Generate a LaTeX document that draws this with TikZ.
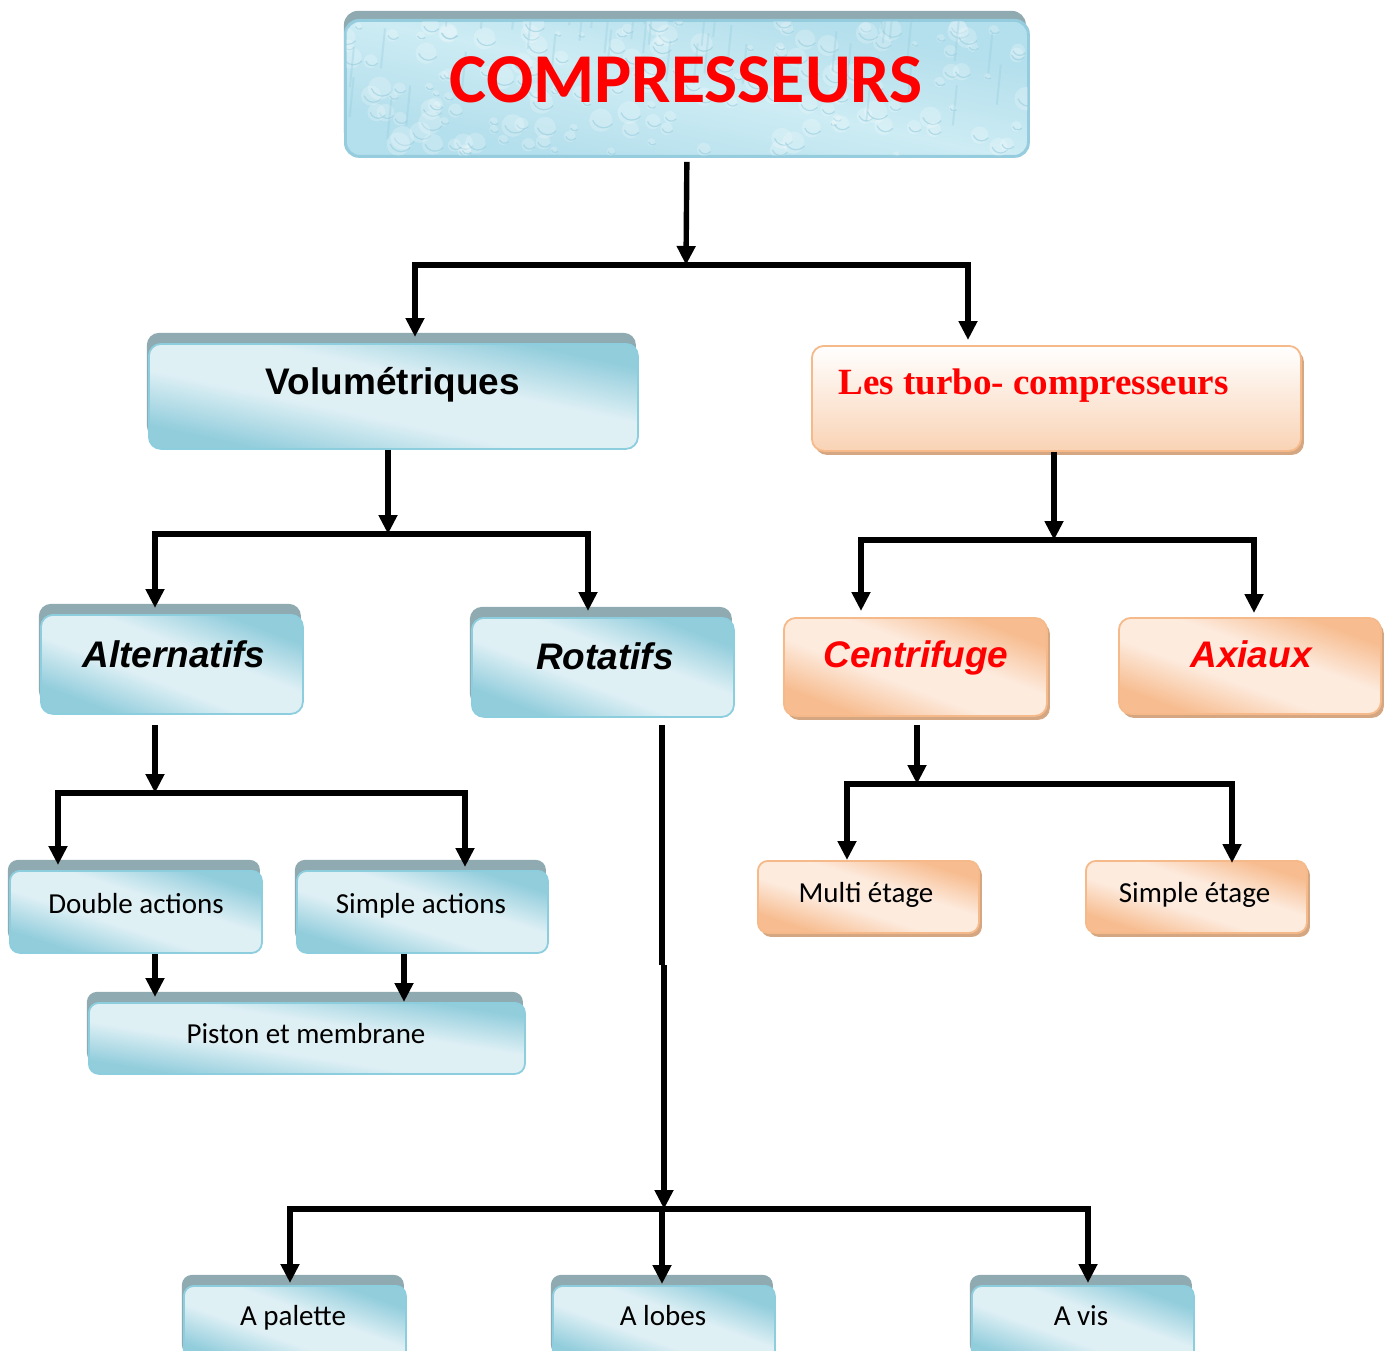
\documentclass[tikz,border=0pt]{standalone}
\usepackage{fontspec}
\setmainfont{Carlito}
\newfontfamily\arialf{Liberation Sans}
\newfontfamily\timesf{Liberation Serif}
\usetikzlibrary{arrows.meta,shadows}
\definecolor{bdark}{RGB}{146,205,220}
\definecolor{blight}{RGB}{223,240,245}
\definecolor{bborder}{RGB}{140,206,222}
\definecolor{bshadow}{RGB}{143,170,176}
\definecolor{odark}{RGB}{247,189,145}
\definecolor{olight}{RGB}{253,235,222}
\definecolor{oborder}{RGB}{246,186,138}
\definecolor{oshadow}{RGB}{212,166,130}
\definecolor{tbottom}{RGB}{249,211,181}
\definecolor{aqua}{RGB}{180,223,236}
\definecolor{aqualight}{RGB}{205,236,244}
\definecolor{aquadark}{RGB}{150,205,222}
\definecolor{redtxt}{RGB}{255,0,0}
\pgfdeclareverticalshading{bshade}{100bp}{color(0bp)=(bdark); color(27bp)=(bdark); color(43bp)=(blight); color(57bp)=(blight); color(73bp)=(bdark); color(100bp)=(bdark)}
\pgfdeclareverticalshading{oshade}{100bp}{color(0bp)=(odark); color(27bp)=(odark); color(43bp)=(olight); color(57bp)=(olight); color(73bp)=(odark); color(100bp)=(odark)}
\pgfdeclareverticalshading{cshade}{100bp}{color(0bp)=(aqua); color(30bp)=(aqua); color(50bp)=(aqualight); color(70bp)=(aqua); color(100bp)=(aqua)}
\tikzset{
  boxbase/.style={rounded corners=12pt, line width=1.8pt, inner sep=0pt, anchor=north west},
  bbox/.style={boxbase, draw=bborder, shading=bshade, shading angle=-15,
    general shadow={shadow xshift=-2pt, shadow yshift=11pt, fill=bshadow, draw=none}},
  obox/.style={boxbase, draw=oborder, shading=oshade, shading angle=-20,
    general shadow={shadow xshift=3pt, shadow yshift=-4pt, fill=oshadow, draw=none}},
  tbox/.style={boxbase, draw=oborder, shade, top color=white, bottom color=tbottom,
    general shadow={shadow xshift=3pt, shadow yshift=-4pt, fill=oshadow, draw=none}},
  cbox/.style={boxbase, rounded corners=14pt, draw=aquadark, shading=cshade, shading angle=-12,
    general shadow={shadow xshift=-2pt, shadow yshift=10pt, fill=bshadow, draw=none}},
  arr/.style={line width=5.4pt, line join=miter, -{Triangle[length=19pt,width=18pt]}},
  plain/.style={line width=5.4pt, line join=miter},
  bigt/.style={anchor=base, font=\arialf\bfseries\fontsize{37}{40}\selectfont},
  bigti/.style={anchor=base, font=\arialf\bfseries\itshape\fontsize{37}{40}\selectfont},
  smt/.style={anchor=base, font=\fontsize{29}{32}\selectfont}
}
\begin{document}
\begin{tikzpicture}[x=1pt,y=-1pt]
\clip (0,0) rectangle (1387,1351);
\fill[white] (0,0) rectangle (1387,1351);

% ---- boxes ----
\node[cbox, minimum width=682pt, minimum height=135pt] (comp) at (345,20) {};
\begin{scope}
  \clip[rounded corners=14pt] (comp.south west) rectangle (comp.north east);
  \pgfmathsetseed{7}
  \foreach \i in {1,...,160}{
    \pgfmathsetmacro\xx{345+682*rnd}
    \pgfmathsetmacro\yy{20+135*rnd}
    \pgfmathsetmacro\rr{3+9*rnd}
    \fill[white, opacity=0.22] (\xx,\yy) circle[radius=\rr pt];
    \draw[aquadark, opacity=0.6, line width=1.2pt] (\xx,\yy) ++(-\rr*0.7,0) arc[start angle=200, end angle=320, radius=\rr pt];
  }
  \foreach \i in {1,...,40}{
    \pgfmathsetmacro\xx{345+682*rnd}
    \pgfmathsetmacro\yy{20+135*rnd}
    \draw[aquadark, opacity=0.35, line width=2pt] (\xx,\yy) -- ++(4,-40);
  }
\end{scope}
\draw[aquadark, line width=2pt, rounded corners=14pt] (comp.south west) rectangle (comp.north east);

\node[bbox, shading angle=-12, minimum width=489pt, minimum height=105pt] (vol) at (148,343) {};
\node[tbox, minimum width=489pt, minimum height=105pt] (turbo) at (811,345) {};
\node[bbox, shading angle=-21, minimum width=262pt, minimum height=99pt] (alt) at (40,614) {};
\node[bbox, shading angle=-21, minimum width=262pt, minimum height=99pt] (rot) at (471,617) {};
\node[obox, shading angle=-21, minimum width=263pt, minimum height=98pt] (cent) at (783,617) {};
\node[obox, shading angle=-20, minimum width=262pt, minimum height=96pt] (axi) at (1118,617) {};
\node[bbox, shading angle=-18, rounded corners=10pt, minimum width=252pt, minimum height=82pt] (dbl) at (9,870) {};
\node[bbox, shading angle=-18, rounded corners=10pt, minimum width=251pt, minimum height=82pt] (smp) at (296,870) {};
\node[bbox, shading angle=-9, rounded corners=10pt, minimum width=436pt, minimum height=71pt] (pist) at (88,1002) {};
\node[obox, shading angle=-18, rounded corners=10pt, minimum width=221pt, minimum height=72pt] (multi) at (757,860) {};
\node[obox, shading angle=-18, rounded corners=10pt, minimum width=221pt, minimum height=72pt] (sing) at (1085,860) {};
\node[bbox, shading angle=-20, rounded corners=10pt, minimum width=222pt, minimum height=80pt] (pal) at (183,1285) {};
\node[bbox, shading angle=-20, rounded corners=10pt, minimum width=222pt, minimum height=80pt] (lob) at (552,1285) {};
\node[bbox, shading angle=-20, rounded corners=10pt, minimum width=222pt, minimum height=80pt] (vis) at (971,1285) {};

% ---- texts ----
\node[anchor=base, text=redtxt, font=\bfseries\fontsize{70}{72}\selectfont] (compT) at (686,103) {COMPRESSEURS};
\node[bigt] (volT) at (393,394) {Volumétriques};
\node[anchor=base, text=redtxt, font=\timesf\bfseries\fontsize{37}{40}\selectfont] (turboT) at (1033.5,394) {Les turbo- compresseurs};
\node[bigti] (altT) at (174,667) {Alternatifs};
\node[bigti] (rotT) at (605,669) {Rotatifs};
\node[bigti, text=redtxt] (centT) at (916,667) {Centrifuge};
\node[bigti, text=redtxt] (axiT) at (1251,667) {Axiaux};
\node[smt] (dblT) at (136,913) {Double actions};
\node[smt] (smpT) at (421,913) {Simple actions};
\node[smt] (pistT) at (306,1043) {Piston et membrane};
\node[smt] (multiT) at (866,902) {Multi étage};
\node[smt] (singT) at (1194.5,902) {Simple étage};
\node[smt] (palT) at (293,1325) {A palette};
\node[smt] (lobT) at (663,1325) {A lobes};
\node[smt] (visT) at (1081,1325) {A vis};

% ---- connectors ----
\coordinate (j0) at (686,265); \coordinate (j0l) at (415,265); \coordinate (j0r) at (968,265);
\draw[arr, shorten <=5pt] (comp.south) -- (j0);
\draw[arr, shorten >=6pt] (j0) -- (j0l) -- (j0l |- vol.north);
\draw[arr, shorten >=5pt] (j0) -- (j0r) -- (j0r |- turbo.north);

\coordinate (j1) at (388,534); \coordinate (j1l) at (155,534); \coordinate (j1r) at (588,534);
\draw[arr] (j1 |- vol.south) -- (j1);
\draw[arr, shorten >=6pt] (j1) -- (j1l) -- (j1l |- alt.north);
\draw[arr, shorten >=6pt] (j1) -- (j1r) -- (j1r |- rot.north);

\coordinate (j2) at (1054,540); \coordinate (j2l) at (861,540); \coordinate (j2r) at (1254,540);
\draw[arr] (j2 |- turbo.south) -- (j2);
\draw[arr, shorten >=6pt] (j2) -- (j2l) -- (j2l |- cent.north);
\draw[arr, shorten >=4pt] (j2) -- (j2r) -- (j2r |- axi.north);

\coordinate (j3) at (155,793); \coordinate (j3l) at (58,793); \coordinate (j3r) at (465,793);
\draw[arr, shorten <=10pt] (j3 |- alt.south) -- (j3);
\draw[arr, shorten >=5pt] (j3) -- (j3l) -- (j3l |- dbl.north);
\draw[arr, shorten >=3pt] (j3) -- (j3r) -- (j3r |- smp.north);

\coordinate (p1) at (155,980); \coordinate (p2) at (404,980);
\draw[arr, shorten >=5pt] (p1 |- dbl.south) -- (p1 |- pist.north);
\draw[arr] (p2 |- smp.south) -- (p2 |- pist.north);

\coordinate (j4) at (917,784); \coordinate (j4l) at (847,784); \coordinate (j4r) at (1232,784);
\draw[arr, shorten <=8pt] (j4 |- cent.south) -- (j4);
\draw[arr] (j4) -- (j4l) -- (j4l |- multi.north);
\draw[arr, shorten >=-3pt] (j4) -- (j4r) -- (j4r |- sing.north);

\coordinate (j5a) at (662,965); \coordinate (j5b) at (664,965); \coordinate (j5) at (664,1209);
\coordinate (j5l) at (290,1209); \coordinate (j5m) at (662,1209); \coordinate (j5r) at (1088,1209);
\draw[plain, shorten <=7pt] (j5a |- rot.south) -- (j5a);
\draw[arr] (j5b) -- (j5);
\draw[arr, shorten >=2pt] (j5) -- (j5l) -- (j5l |- pal.north);
\draw[arr, shorten >=1pt] (j5m) -- (j5m |- lob.north);
\draw[arr, shorten >=2pt] (j5) -- (j5r) -- (j5r |- vis.north);
\end{tikzpicture}
\end{document}
